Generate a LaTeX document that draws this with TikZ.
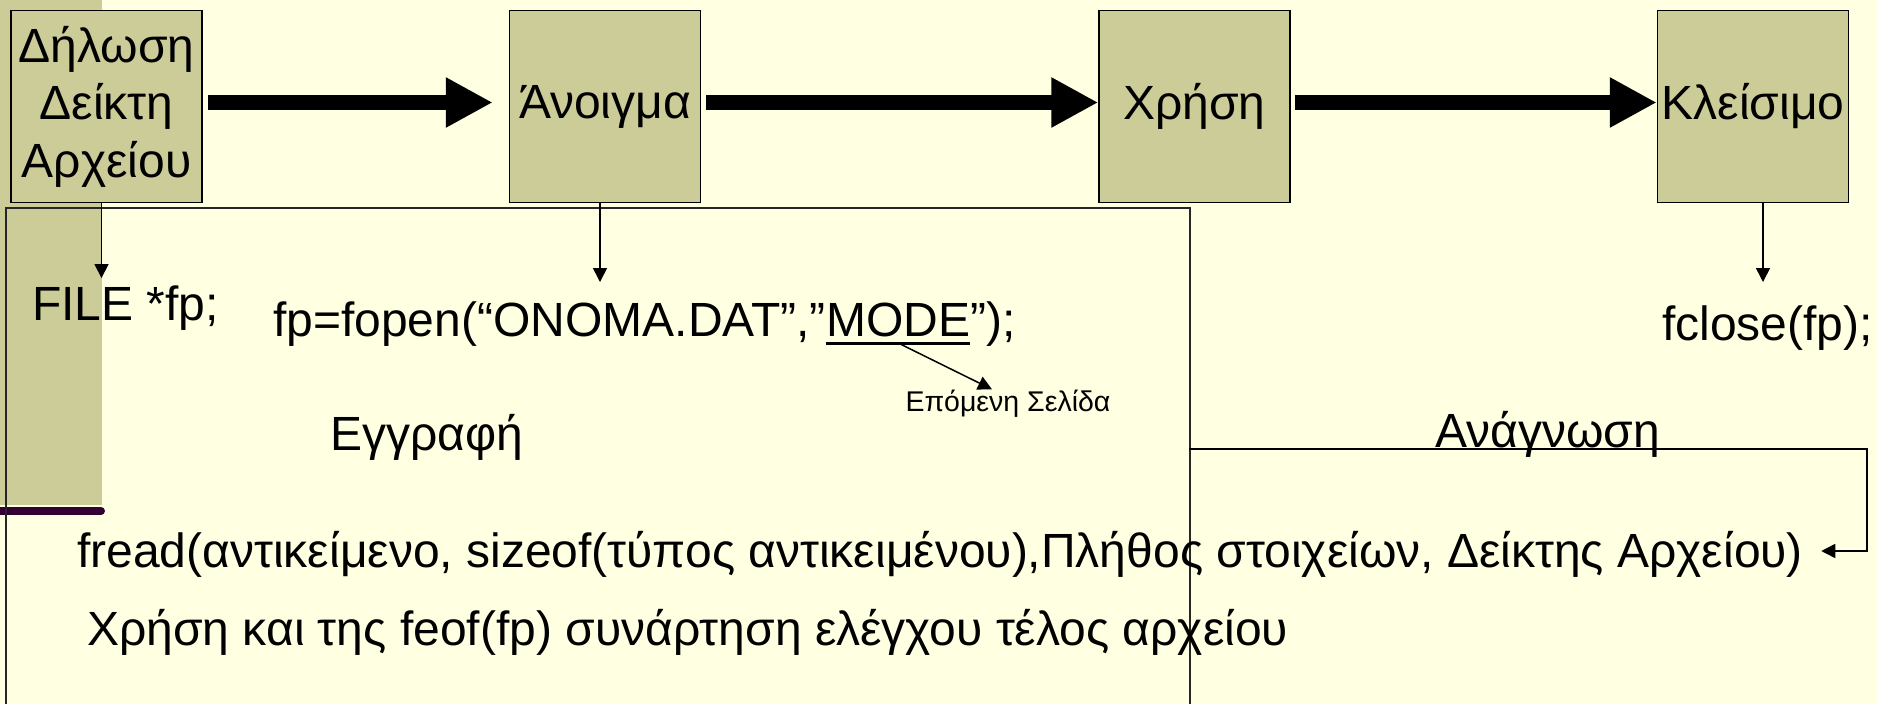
\documentclass[tikz,border=0pt]{standalone}
\usepackage{fontspec}
\setmainfont{Liberation Sans}
\usetikzlibrary{arrows.meta,positioning}

\definecolor{slidebg}{HTML}{FFFFE1}
\definecolor{boxolive}{HTML}{CCCC99}
\definecolor{barpurple}{HTML}{330033}

\tikzset{
  stagebox/.style={draw=black, line width=1.5pt, fill=boxolive, minimum width=191pt, minimum height=192pt, inner sep=0pt, align=center, font=\fontsize{48}{57.5}\selectfont},
  bigtext/.style={inner sep=0pt, anchor=base west, font=\fontsize{48}{57.5}\selectfont},
  fatarrow/.style={line width=15pt, -{Triangle[length=47pt,width=47pt]}},
  thinarrow/.style={line width=1.5pt, -{Triangle[length=14pt,width=14pt]}}
}

\begin{document}
\begin{tikzpicture}[x=1pt,y=-1pt]
    \useasboundingbox (0,0) rectangle (1877,704);
    \fill[slidebg] (0,0) rectangle (1877,704);
    \fill[boxolive] (0,0) rectangle (102,505);
    \draw[barpurple, line width=8pt, line cap=round] (-10,511) -- (101,511);

    \node[draw=black!85, line width=1.5pt, minimum width=1184pt, minimum height=520pt, anchor=north west, inner sep=0pt] (panel) at (5,207) {};

    \node[stagebox] (decl) at (106.5,106.5) {Δήλωση\\Δείκτη\\Αρχείου};
    \node[stagebox] (open) at (605,106.5) {Άνοιγμα};
    \node[stagebox] (use) at (1194.5,106.5) {Χρήση};
    \node[stagebox] (close) at (1753,106.5) {Κλείσιμο};

    \draw[fatarrow, shorten <=5pt, shorten >=16pt] ([yshift=4pt]decl.east) -- ([yshift=4pt]open.west);
    \draw[fatarrow, shorten <=5pt] ([yshift=4pt]open.east) -- ([yshift=4pt]use.west);
    \draw[fatarrow, shorten <=4pt] ([yshift=4pt]use.east) -- ([yshift=4pt]close.west);

    \node[bigtext] (filetxt) at (32,320) {FILE *fp;};
    \node[bigtext] (opena) at (273,336) {fp=fopen(“ONOMA.DAT”,”};
    \node[bigtext] (mode) at (opena.base east) {MODE};
    \node[bigtext] (openb) at (mode.base east) {”);};
    \node[bigtext] (closetxt) at (1662,340) {fclose(fp);};
    \node[inner sep=0pt, anchor=base, font=\fontsize{28.5}{33}\selectfont] (nextpg) at (1008,411) {Επόμενη Σελίδα};
    \node[bigtext] (writetxt) at (330,450) {Εγγραφή};
    \node[bigtext] (readtxt) at (1435,447) {Ανάγνωση};
    \node[bigtext] (freadtxt) at (77,567) {fread(αντικείμενο, sizeof(τύπος αντικειμένου),Πλήθος στοιχείων, Δείκτης Αρχείου)};
    \node[bigtext] (feoftxt) at (87,645) {Χρήση και της feof(fp) συνάρτηση ελέγχου τέλος αρχείου};

    \draw[thinarrow, shorten >=7pt] ([xshift=-5pt]decl.south) -- ([xshift=-5pt]decl.south |- filetxt.north);
    \draw[thinarrow, shorten >=19pt] ([xshift=-5pt]open.south) -- ([xshift=-5pt]open.south |- opena.north);
    \draw[thinarrow, shorten >=23pt] ([xshift=10pt]close.south) -- ([xshift=10pt]close.south |- closetxt.north);

    \draw[line width=3pt] ([yshift=-7pt]mode.base west) -- ([yshift=-7pt]mode.base east);
    \draw[thinarrow] ([yshift=-7pt]mode.base) -- ([xshift=-16pt]nextpg.north);

    \coordinate (readtap) at (1189,449);
    \coordinate (rdcorner) at (1867,449);
    \coordinate (rdbottom) at (1867,551);
    \draw[thinarrow] (readtap) -- (rdcorner) -- (rdbottom) -- ([xshift=18pt]freadtxt.east |- rdbottom);
\end{tikzpicture}
\end{document}
